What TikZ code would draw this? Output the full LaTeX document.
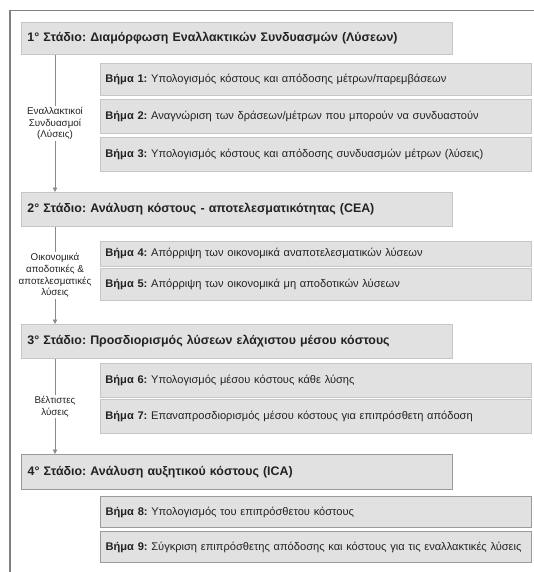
\documentclass[tikz,border=0pt]{standalone}
\usepackage{fontspec}
\setmainfont{Liberation Sans}
\usetikzlibrary{arrows.meta}
\frenchspacing
\definecolor{boxfill}{HTML}{E1E1E1}
\definecolor{boxline}{HTML}{C6C6C6}
\definecolor{boxdark}{HTML}{9A9A9A}
\definecolor{framec}{HTML}{808080}
\definecolor{arrc}{HTML}{8A8A8A}
\definecolor{txt}{HTML}{222222}
\tikzset{
  stagebox/.style={draw=boxline, line width=0.9pt, fill=boxfill, anchor=north west,
    inner xsep=6pt, inner ysep=0pt, text width=419pt, align=left, font=\fontsize{12.4}{14}\selectfont\bfseries, text=txt},
  stepbox/.style={draw=boxline, line width=0.9pt, fill=boxfill, anchor=north west,
    inner xsep=5pt, inner ysep=0pt, text width=421pt, align=left, font=\fontsize{11.1}{13}\selectfont, text=txt},
  darkbox/.style={draw=boxdark, line width=1.3pt},
  flow/.style={draw=arrc, line width=0.8pt, -{Triangle[width=4.5pt,length=4.5pt]}},
  sidelabel/.style={midway, fill=white, inner sep=1pt, align=center, font=\fontsize{9.8}{11.8}\selectfont, text=txt}
}
\begin{document}
\begin{tikzpicture}[x=1pt,y=-1pt]
\useasboundingbox (0,0) rectangle (533,572);
% frame
\draw[framec, line width=1.5pt] (10,573) -- (10,10.5) -- (534,10.5);
% stages
\node[stagebox, minimum height=32pt] (s1) at (21,22) {1° Στάδιο: Διαμόρφωση Εναλλακτικών Συνδυασμών (Λύσεων)};
\node[stagebox, minimum height=34pt] (s2) at (21,192) {2° Στάδιο: Ανάλυση κόστους - αποτελεσματικότητας (CEA)};
\node[stagebox, minimum height=34pt] (s3) at (21,324) {3° Στάδιο: Προσδιορισμός λύσεων ελάχιστου μέσου κόστους};
\node[stagebox, darkbox, minimum height=35pt] (s4) at (21,454) {4° Στάδιο: Ανάλυση αυξητικού κόστους (ICA)};
% steps
\node[stepbox, minimum height=32pt] (b1) at (100,63) {\textbf{Βήμα 1:} Υπολογισμός κόστους και απόδοσης μέτρων/παρεμβάσεων};
\node[stepbox, minimum height=34pt] (b2) at (100,99) {\textbf{Βήμα 2:} Αναγνώριση των δράσεων/μέτρων που μπορούν να συνδυαστούν};
\node[stepbox, minimum height=34pt] (b3) at (100,137) {\textbf{Βήμα 3:} Υπολογισμός κόστους και απόδοσης συνδυασμών μέτρων (λύσεις)};
\node[stepbox, minimum height=25pt] (b4) at (100,241) {\textbf{Βήμα 4:} Απόρριψη των οικονομικά αναποτελεσματικών λύσεων};
\node[stepbox, minimum height=32pt] (b5) at (100,268) {\textbf{Βήμα 5:} Απόρριψη των οικονομικά μη αποδοτικών λύσεων};
\node[stepbox, minimum height=34pt] (b6) at (100,363) {\textbf{Βήμα 6:} Υπολογισμός μέσου κόστους κάθε λύσης};
\node[stepbox, minimum height=34pt] (b7) at (100,399) {\textbf{Βήμα 7:} Επαναπροσδιορισμός μέσου κόστους για επιπρόσθετη απόδοση};
\node[stepbox, darkbox, minimum height=31pt] (b8) at (100,496) {\textbf{Βήμα 8:} Υπολογισμός του επιπρόσθετου κόστους};
\node[stepbox, darkbox, minimum height=31pt] (b9) at (100,531) {\textbf{Βήμα 9:} Σύγκριση επιπρόσθετης απόδοσης και κόστους για τις εναλλακτικές λύσεις};
% connectors
\coordinate (ax) at (55,0);
\draw[flow] (s1.south -| ax) -- node[sidelabel] {Εναλλακτικοί\\Συνδυασμοί\\(Λύσεις)} (s2.north -| ax);
\draw[flow] (s2.south -| ax) -- node[sidelabel] {Οικονομικά\\αποδοτικές \&\\αποτελεσματικές\\λύσεις} (s3.north -| ax);
\draw[flow] (s3.south -| ax) -- node[sidelabel] {Βέλτιστες\\λύσεις} (s4.north -| ax);
\end{tikzpicture}
\end{document}
